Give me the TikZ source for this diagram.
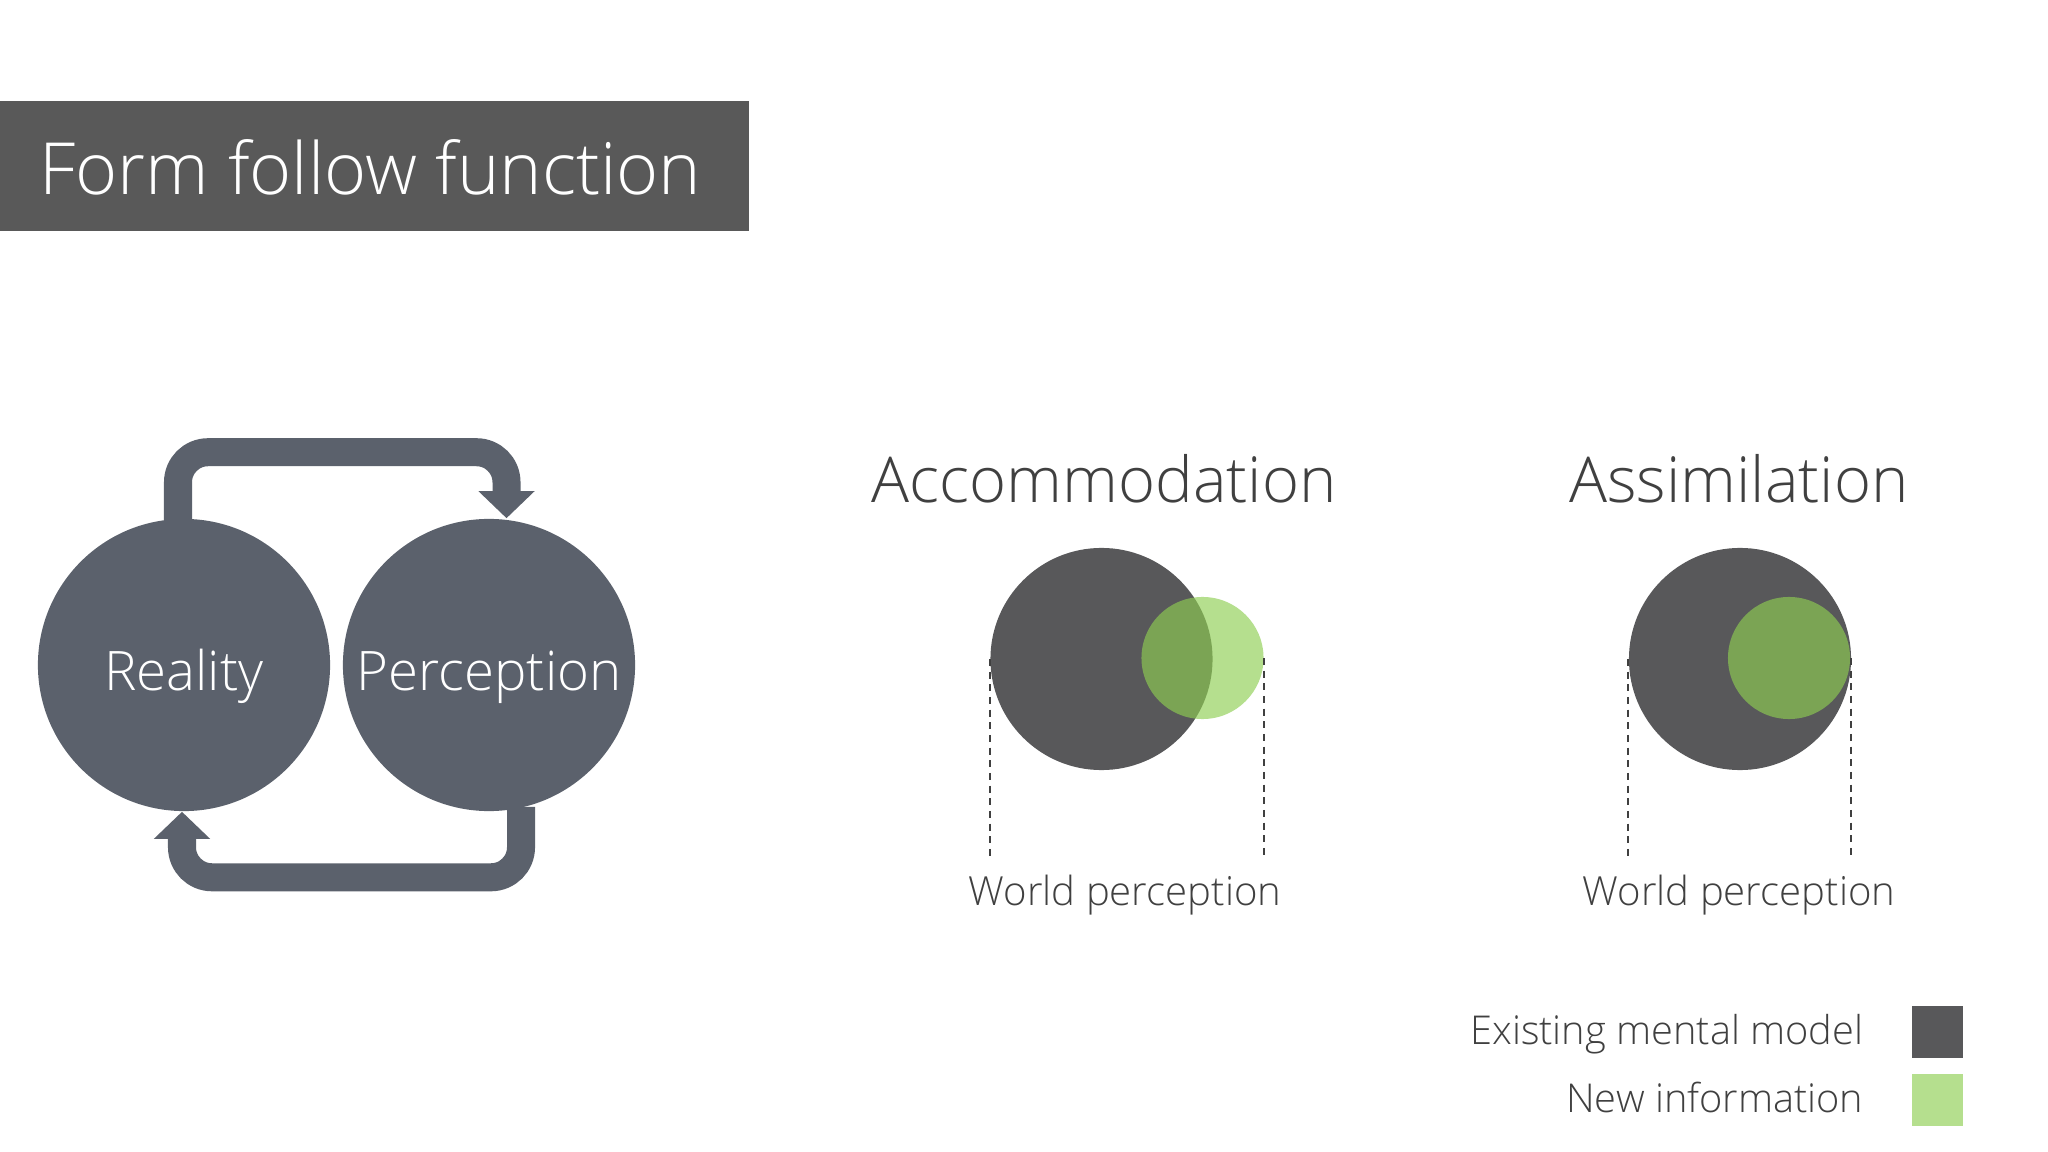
\documentclass[tikz,border=0pt]{standalone}
\usepackage{fontspec}
\IfFontExistsTF{Open Sans Light}{\setmainfont{Open Sans Light}}{\setmainfont{Open Sans}}
\usetikzlibrary{arrows.meta}
\definecolor{titlegray}{RGB}{89,89,89}
\definecolor{bubblegray}{RGB}{91,97,108}
\definecolor{modeldark}{RGB}{88,88,90}
\definecolor{newgreen}{RGB}{142,206,82}
\definecolor{lightgreen}{RGB}{181,223,142}
\definecolor{textdark}{RGB}{64,64,64}
\tikzset{
  bubble/.style={circle, fill=bubblegray, minimum size=2.92cm, inner sep=0pt, text=white, font=\fontsize{15.5}{18}\selectfont, text height=0.5cm, text depth=0pt},
  loopline/.style={draw=bubblegray, line width=0.28cm, rounded corners=0.3cm, -{Triangle[width=0.545cm,length=0.27cm]}},
  model/.style={circle, fill=modeldark, minimum size=2.22cm, inner sep=0pt},
  newinfo/.style={circle, fill=newgreen, fill opacity=0.65, minimum size=1.22cm, inner sep=0pt},
  guide/.style={draw=textdark, line width=0.5pt, dash pattern=on 2pt off 1.6pt},
  heading/.style={text=textdark, font=\fontsize{18}{22}\selectfont, anchor=base, inner sep=0pt},
  caption/.style={text=textdark, font=\fontsize{11.4}{13}\selectfont, anchor=base, inner sep=0pt},
  legendtext/.style={text=textdark, font=\fontsize{11.3}{13}\selectfont, anchor=base east, inner sep=0pt},
  swatch/.style={minimum width=0.51cm, minimum height=0.51cm, inner sep=0pt}
}
\begin{document}
\begin{tikzpicture}[x=0.01cm, y=-0.01cm]
\useasboundingbox[fill=white] (0,0) rectangle (2048,1152);
% title
\fill[titlegray] (0,101) rectangle (749,231);
\node[text=white, font=\fontsize{20.45}{24}\selectfont, anchor=base west, inner sep=0pt] (title) at (39,195) {Form follow function};
% loop
\node[bubble] (R) at (184,665) {Reality};
\node[bubble] (P) at (489,665) {Perception};
\draw[loopline] ([xshift=-0.06cm,yshift=-0.05cm]R.north) -- ++(0,-71) -| ([xshift=0.175cm]P.north);
\draw[loopline] ([xshift=0.32cm,yshift=0.05cm]P.south) -- ++(0,70.5) -| ([xshift=-0.02cm]R.south);
% accommodation
\node[heading] (acch) at (1104,502) {Accommodation};
\node[model] (A1) at (1101.5,659) {};
\node[newinfo] (A2) at (1202.5,658) {};
\draw[guide] (A1.west) -- ++(0,199);
\draw[guide] (A2.east) -- ++(0,199);
\node[caption] (acccap) at (1125,905) {World perception};
% assimilation
\node[heading] (assh) at (1739,502) {Assimilation};
\node[model] (B1) at (1740,659) {};
\node[newinfo] (B2) at (1789,658) {};
\draw[guide] (B1.west) -- ++(0,199);
\draw[guide] (B2.east) -- ++(0,199);
\node[caption] (asscap) at (1739,905) {World perception};
% legend
\node[legendtext] (l1) at (1864,1044) {Existing mental model};
\node[legendtext] (l2) at (1864,1112) {New information};
\node[swatch, fill=modeldark] (s1) at (1937,1032) {};
\node[swatch, fill=lightgreen] (s2) at (1937,1100) {};
\end{tikzpicture}
\end{document}
